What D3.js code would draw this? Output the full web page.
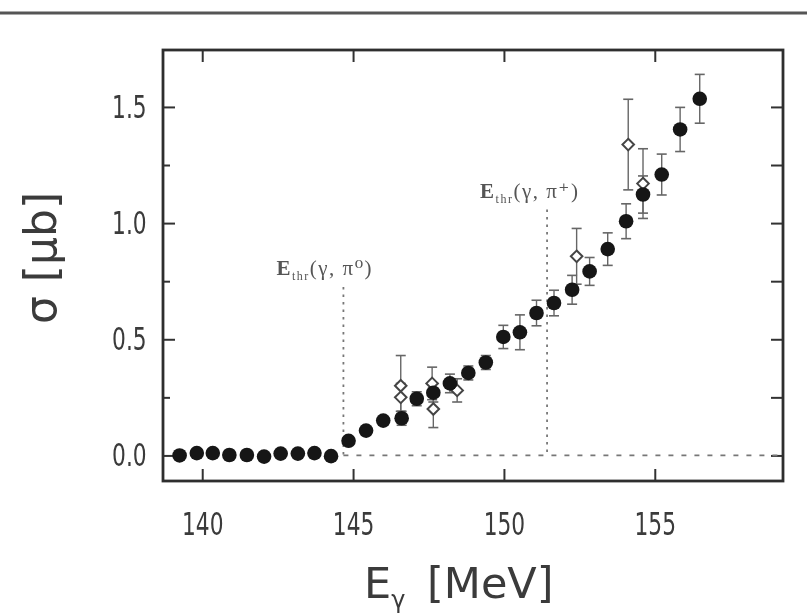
<!DOCTYPE html>
<html>
<head>
<meta charset="utf-8">
<script src="https://cdn.jsdelivr.net/npm/d3@7"></script>
<style>
  body { margin: 0; background: #fff; }
  svg { display: block; }
</style>
</head>
<body>
<div id="chart"></div>
<script>
// Measured points (filled circles): photon energy [MeV], cross section [ub], error
const energy = [139.25, 139.82, 140.35, 140.90, 141.48, 142.05, 142.60, 143.17, 143.72, 144.27,
                144.85, 145.43, 146.00, 146.61, 147.11, 147.66, 148.21, 148.82, 149.40, 149.98,
                150.53, 151.08, 151.66, 152.26, 152.84, 153.44, 154.05, 154.61, 155.23, 155.84, 156.49];
const sigma = [0.000, 0.010, 0.010, 0.002, 0.002, -0.005, 0.008, 0.008, 0.010, -0.003,
               0.063, 0.107, 0.150, 0.160, 0.244, 0.270, 0.310, 0.355, 0.400, 0.510,
               0.530, 0.613, 0.656, 0.713, 0.792, 0.888, 1.008, 1.123, 1.209, 1.403, 1.535];
const sigmaErr = [0.01, 0.01, 0.01, 0.01, 0.01, 0.01, 0.01, 0.01, 0.01, 0.01,
                  0.015, 0.02, 0.02, 0.03, 0.03, 0.04, 0.04, 0.03, 0.03, 0.05,
                  0.075, 0.055, 0.055, 0.062, 0.06, 0.07, 0.075, 0.08, 0.088, 0.095, 0.105];

// Second data set (open diamonds)
const openEnergy = [146.58, 146.58, 147.62, 147.66, 148.45, 152.41, 154.12, 154.61];
const openSigma = [0.300, 0.250, 0.310, 0.200, 0.280, 0.857, 1.338, 1.170];
const openErr = [0.13, 0.06, 0.07, 0.08, 0.05, 0.12, 0.195, 0.15];

// Thresholds (dotted lines) and their labels
const thrEnergy = [144.68, 151.43];
const thrTop = [0.725, 1.058];
const thrLabel = ["\u03c0\u2070", "\u03c0\u207a"];

// Tick values
const xTicks = [140, 145, 150, 155];
const yTicks = [0.0, 0.5, 1.0, 1.5];
const yMinor = [0.25, 0.75, 1.25];

const W = 807, H = 614;
const plotLeft = 163, plotRight = 783, plotTop = 50, plotBottom = 481;

const x = d3.scaleLinear().domain([138.7, 159.25]).range([plotLeft, plotRight]);
const y = d3.scaleLinear().domain([-0.11, 1.745]).range([plotBottom, plotTop]);

const svg = d3.select("#chart").append("svg")
    .attr("width", W)
    .attr("height", H);

// slight blur, the original is a scan
svg.append("defs").append("filter")
    .attr("id", "soft")
    .append("feGaussianBlur")
    .attr("stdDeviation", 0.7);

const g = svg.append("g").attr("filter", "url(#soft)");

// page rule at the top of the scan
g.append("line")
    .attr("x1", 0).attr("x2", W)
    .attr("y1", 13).attr("y2", 13)
    .attr("stroke", "#555")
    .attr("stroke-width", 3);

// Add the X Axis (bottom with labels, top ticks only)
const xAxis = g.append("g")
    .attr("transform", "translate(0," + plotBottom + ")")
    .call(d3.axisBottom(x).tickValues(xTicks).tickSizeInner(-12).tickSizeOuter(0).tickPadding(31));
xAxis.selectAll("text")
    .attr("transform", "scale(0.68,1)")
    .style("font", "32px 'DejaVu Sans'")
    .attr("fill", "#3a3a3a");

g.append("g")
    .attr("transform", "translate(0," + plotTop + ")")
    .call(d3.axisTop(x).tickValues(xTicks).tickSizeInner(-12).tickSizeOuter(0).tickFormat(""));

// Add the Y Axis (left with labels, right ticks only)
const yAxis = g.append("g")
    .attr("transform", "translate(" + plotLeft + ",0)")
    .call(d3.axisLeft(y).tickValues(yTicks).tickFormat(d3.format(".1f"))
        .tickSizeInner(-12).tickSizeOuter(0).tickPadding(24));
yAxis.selectAll("text")
    .attr("transform", "scale(0.68,1)")
    .style("font", "32px 'DejaVu Sans'")
    .attr("fill", "#3a3a3a");

g.append("g")
    .attr("transform", "translate(" + plotLeft + ",0)")
    .call(d3.axisLeft(y).tickValues(yMinor).tickSizeInner(-7).tickSizeOuter(0).tickFormat(""));

g.append("g")
    .attr("transform", "translate(" + plotRight + ",0)")
    .call(d3.axisRight(y).tickValues(yTicks.concat(yMinor)).tickSizeInner(-12).tickSizeOuter(0).tickFormat(""));

g.selectAll(".domain").remove();
g.selectAll(".tick line").attr("stroke", "#333").attr("stroke-width", 2);

// frame
g.append("rect")
    .attr("x", plotLeft).attr("y", plotTop)
    .attr("width", plotRight - plotLeft).attr("height", plotBottom - plotTop)
    .attr("fill", "none")
    .attr("stroke", "#2e2e2e")
    .attr("stroke-width", 2.8);

// zero line from the pi0 threshold on
g.append("line")
    .attr("x1", x(thrEnergy[0])).attr("x2", plotRight)
    .attr("y1", y(0)).attr("y2", y(0))
    .attr("stroke", "#777")
    .attr("stroke-width", 1.8)
    .attr("stroke-dasharray", "5,8");

// threshold lines
g.selectAll(".thr")
    .data(thrEnergy)
    .enter().append("line")
    .attr("class", "thr")
    .attr("x1", d => x(d)).attr("x2", d => x(d))
    .attr("y1", (d, i) => y(thrTop[i])).attr("y2", y(0))
    .attr("stroke", "#777")
    .attr("stroke-width", 1.8)
    .attr("stroke-dasharray", "2.5,5");

// threshold labels
thrEnergy.forEach((e, i) => {
    const t = g.append("text")
        .attr("x", x(e) - 67)
        .attr("y", y(thrTop[i]) - 12)
        .style("font-family", "'Liberation Serif', 'DejaVu Serif', serif")
        .style("font-size", "21px")
        .attr("fill", "#555")
        .style("letter-spacing", "1.5px");
    t.append("tspan").text("E").style("font-weight", "bold");
    t.append("tspan").text("thr").attr("dy", 5).style("font-size", "12px");
    t.append("tspan").text("(\u03b3, " + thrLabel[i] + ")").attr("dy", -5);
});

// Error bars (both sets)
const bars = [];
energy.forEach((e, i) => bars.push({e: e, s: sigma[i], err: sigmaErr[i]}));
openEnergy.forEach((e, i) => bars.push({e: e, s: openSigma[i], err: openErr[i]}));

g.selectAll(".err")
    .data(bars)
    .enter().append("line")
    .attr("class", "err")
    .attr("x1", d => x(d.e)).attr("x2", d => x(d.e))
    .attr("y1", d => y(d.s - d.err)).attr("y2", d => y(d.s + d.err))
    .attr("stroke", "#666")
    .attr("stroke-width", 1.4);

["lo", "hi"].forEach(side => {
    g.selectAll(".cap-" + side)
        .data(bars.filter(d => d.err > 0.02))
        .enter().append("line")
        .attr("class", "cap-" + side)
        .attr("x1", d => x(d.e) - 5).attr("x2", d => x(d.e) + 5)
        .attr("y1", d => y(side == "lo" ? d.s - d.err : d.s + d.err))
        .attr("y2", d => y(side == "lo" ? d.s - d.err : d.s + d.err))
        .attr("stroke", "#666")
        .attr("stroke-width", 1.6);
});

// open diamonds
g.selectAll(".open")
    .data(openEnergy)
    .enter().append("path")
    .attr("class", "open")
    .attr("d", d3.symbol().type(d3.symbolDiamond2).size(85))
    .attr("transform", (d, i) => "translate(" + x(d) + "," + y(openSigma[i]) + ")")
    .attr("fill", "#fff")
    .attr("stroke", "#444")
    .attr("stroke-width", 2);

// filled circles
g.selectAll(".dot")
    .data(energy)
    .enter().append("circle")
    .attr("class", "dot")
    .attr("cx", d => x(d))
    .attr("cy", (d, i) => y(sigma[i]))
    .attr("r", 7.3)
    .attr("fill", "#141414");

// axis titles
g.append("text")
    .attr("transform", "translate(56,258) rotate(-90)")
    .attr("text-anchor", "middle")
    .style("font", "44px 'DejaVu Sans'")
    .attr("fill", "#3a3a3a")
    .text("\u03c3 [\u03bcb]");

const xt = g.append("text")
    .attr("x", 364)
    .attr("y", 598)
    .style("font", "43px 'DejaVu Sans'")
    .attr("fill", "#3a3a3a");
xt.append("tspan").text("E");
xt.append("tspan").text("\u03b3").attr("dy", 10).style("font-size", "24px");
xt.append("tspan").text(" [MeV]").attr("dy", -10).attr("dx", 8);
</script>
</body>
</html>
